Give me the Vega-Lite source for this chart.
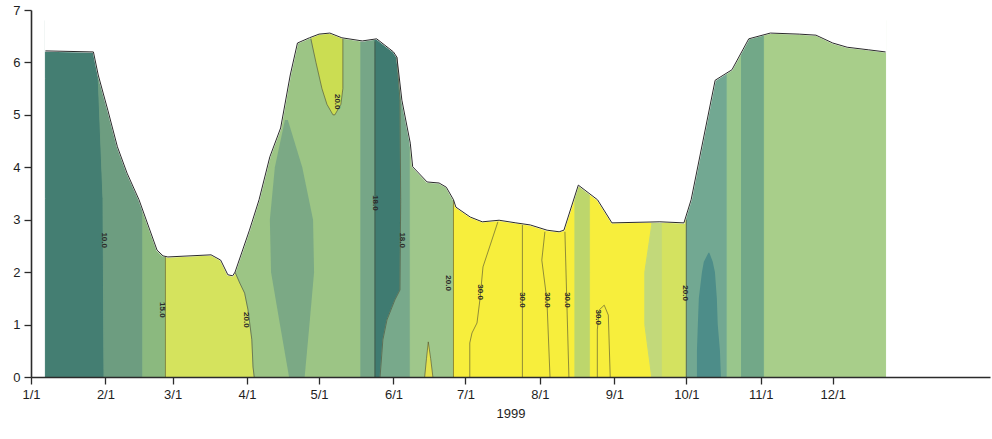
{
  "$schema": "https://vega.github.io/schema/vega-lite/v6.json",
  "autosize": {"type": "none"},
  "padding": {"left": 31, "top": 10, "right": 2, "bottom": 62},
  "width": 959,
  "height": 367,
  "background": "white",
  "config": {
    "view": {"stroke": null},
    "axis": {"labelFont": "Liberation Sans", "titleFont": "Liberation Sans", "domainColor": "#2b2b2b", "tickColor": "#2b2b2b", "labelColor": "#1e1e1e", "titleColor": "#1e1e1e", "grid": false}
  },
  "datasets": {
    "bands": [
      {"b":"b01","d":0,"t":"1999-01-07","t2":"1999-01-31T10:00Z"},
      {"b":"b01","d":3.4,"t":"1999-01-07","t2":"1999-01-31"},
      {"b":"b01","d":5.7,"t":"1999-01-07","t2":"1999-01-29"},
      {"b":"b01","d":6.8,"t":"1999-01-07","t2":"1999-01-28"},
      {"b":"b02","d":0,"t":"1999-01-31T10:00Z","t2":"1999-02-16T14:00Z"},
      {"b":"b02","d":3.4,"t":"1999-01-31","t2":"1999-02-16T14:00Z"},
      {"b":"b02","d":5.7,"t":"1999-01-29","t2":"1999-02-16T14:00Z"},
      {"b":"b02","d":6.8,"t":"1999-01-28","t2":"1999-02-16T14:00Z"},
      {"b":"b03","d":0,"t":"1999-02-16T14:00Z","t2":"1999-02-26"},
      {"b":"b03","d":6.8,"t":"1999-02-16T14:00Z","t2":"1999-02-26"},
      {"b":"b04","d":0,"t":"1999-02-26","t2":"1999-04-04"},
      {"b":"b04","d":0.19,"t":"1999-02-26","t2":"1999-04-03T12:00Z"},
      {"b":"b04","d":0.71,"t":"1999-02-26","t2":"1999-04-03"},
      {"b":"b04","d":1.28,"t":"1999-02-26","t2":"1999-04-01T10:00Z"},
      {"b":"b04","d":1.6,"t":"1999-02-26","t2":"1999-03-31"},
      {"b":"b04","d":1.79,"t":"1999-02-26","t2":"1999-03-29"},
      {"b":"b04","d":2.0,"t":"1999-02-26","t2":"1999-03-27"},
      {"b":"b04","d":6.8,"t":"1999-02-26","t2":"1999-03-27"},
      {"b":"b05","d":0,"t":"1999-04-04","t2":"1999-05-18T10:00Z"},
      {"b":"b05","d":0.19,"t":"1999-04-03T12:00Z","t2":"1999-05-18T10:00Z"},
      {"b":"b05","d":0.71,"t":"1999-04-03","t2":"1999-05-18T10:00Z"},
      {"b":"b05","d":1.28,"t":"1999-04-01T10:00Z","t2":"1999-05-18T10:00Z"},
      {"b":"b05","d":1.6,"t":"1999-03-31","t2":"1999-05-18T10:00Z"},
      {"b":"b05","d":1.79,"t":"1999-03-29","t2":"1999-05-18T10:00Z"},
      {"b":"b05","d":2.0,"t":"1999-03-27","t2":"1999-05-18T10:00Z"},
      {"b":"b05","d":6.8,"t":"1999-03-27","t2":"1999-05-18T10:00Z"},
      {"b":"b06","d":0,"t":"1999-05-18T10:00Z","t2":"1999-05-24T07:00Z"},
      {"b":"b06","d":6.8,"t":"1999-05-18T10:00Z","t2":"1999-05-24T07:00Z"},
      {"b":"b07","d":0,"t":"1999-05-24T07:00Z","t2":"1999-05-26T10:00Z"},
      {"b":"b07","d":0.71,"t":"1999-05-24T07:00Z","t2":"1999-05-27T14:00Z"},
      {"b":"b07","d":1.09,"t":"1999-05-24T07:00Z","t2":"1999-05-29T07:00Z"},
      {"b":"b07","d":1.47,"t":"1999-05-24T07:00Z","t2":"1999-06-01T14:00Z"},
      {"b":"b07","d":1.66,"t":"1999-05-24T07:00Z","t2":"1999-06-03T17:00Z"},
      {"b":"b07","d":3.38,"t":"1999-05-24T07:00Z","t2":"1999-06-04"},
      {"b":"b07","d":5.28,"t":"1999-05-24T07:00Z","t2":"1999-06-03T17:00Z"},
      {"b":"b07","d":6.1,"t":"1999-05-24T07:00Z","t2":"1999-06-02T10:00Z"},
      {"b":"b07","d":6.8,"t":"1999-05-24T07:00Z","t2":"1999-06-02"},
      {"b":"b08","d":0,"t":"1999-05-26T10:00Z","t2":"1999-06-08"},
      {"b":"b08","d":0.71,"t":"1999-05-27T14:00Z","t2":"1999-06-08"},
      {"b":"b08","d":1.09,"t":"1999-05-29T07:00Z","t2":"1999-06-08"},
      {"b":"b08","d":1.47,"t":"1999-06-01T14:00Z","t2":"1999-06-08"},
      {"b":"b08","d":1.66,"t":"1999-06-03T17:00Z","t2":"1999-06-08"},
      {"b":"b08","d":3.38,"t":"1999-06-04","t2":"1999-06-08"},
      {"b":"b08","d":5.28,"t":"1999-06-03T17:00Z","t2":"1999-06-08"},
      {"b":"b08","d":6.1,"t":"1999-06-02T10:00Z","t2":"1999-06-08"},
      {"b":"b08","d":6.8,"t":"1999-06-02","t2":"1999-06-08"},
      {"b":"b09","d":0,"t":"1999-06-08","t2":"1999-06-26"},
      {"b":"b09","d":6.8,"t":"1999-06-08","t2":"1999-06-26"},
      {"b":"b10","d":0,"t":"1999-06-26","t2":"1999-08-15T14:00Z"},
      {"b":"b10","d":6.8,"t":"1999-06-26","t2":"1999-08-15T14:00Z"},
      {"b":"b11","d":0,"t":"1999-08-15T14:00Z","t2":"1999-08-22"},
      {"b":"b11","d":6.8,"t":"1999-08-15T14:00Z","t2":"1999-08-22"},
      {"b":"b12","d":0,"t":"1999-08-22","t2":"1999-09-16T14:00Z"},
      {"b":"b12","d":1,"t":"1999-08-22","t2":"1999-09-13T17:00Z"},
      {"b":"b12","d":2,"t":"1999-08-22","t2":"1999-09-13T17:00Z"},
      {"b":"b12","d":2.9,"t":"1999-08-22","t2":"1999-09-16T14:00Z"},
      {"b":"b12","d":6.8,"t":"1999-08-22","t2":"1999-09-16T14:00Z"},
      {"b":"b13","d":0,"t":"1999-09-16T14:00Z","t2":"1999-09-21"},
      {"b":"b13","d":1,"t":"1999-09-13T17:00Z","t2":"1999-09-21"},
      {"b":"b13","d":2,"t":"1999-09-13T17:00Z","t2":"1999-09-21"},
      {"b":"b13","d":2.9,"t":"1999-09-16T14:00Z","t2":"1999-09-21"},
      {"b":"b13","d":6.8,"t":"1999-09-16T14:00Z","t2":"1999-09-21"},
      {"b":"b14","d":0,"t":"1999-09-21","t2":"1999-10-01"},
      {"b":"b14","d":6.8,"t":"1999-09-21","t2":"1999-10-01"},
      {"b":"b15","d":0,"t":"1999-10-01","t2":"1999-10-18"},
      {"b":"b15","d":6.8,"t":"1999-10-01","t2":"1999-10-18"},
      {"b":"b16","d":0,"t":"1999-10-18","t2":"1999-10-24"},
      {"b":"b16","d":6.8,"t":"1999-10-18","t2":"1999-10-24"},
      {"b":"b17","d":0,"t":"1999-10-24","t2":"1999-11-02T12:00Z"},
      {"b":"b17","d":6.8,"t":"1999-10-24","t2":"1999-11-02T12:00Z"},
      {"b":"b18","d":0,"t":"1999-11-02T12:00Z","t2":"1999-12-23"},
      {"b":"b18","d":6.8,"t":"1999-11-02T12:00Z","t2":"1999-12-23"}
    ],
    "spots": [
      {"b":"o1","d":0,"t":"1999-04-18T12:00Z","t2":"1999-04-25"},
      {"b":"o1","d":1,"t":"1999-04-14T17:00Z","t2":"1999-04-27"},
      {"b":"o1","d":2,"t":"1999-04-11","t2":"1999-04-28T22:00Z"},
      {"b":"o1","d":3,"t":"1999-04-10T12:00Z","t2":"1999-04-28T12:00Z"},
      {"b":"o1","d":4,"t":"1999-04-12T14:00Z","t2":"1999-04-24"},
      {"b":"o1","d":4.9,"t":"1999-04-16T19:00Z","t2":"1999-04-18"},
      {"b":"o2","d":5.0,"t":"1999-05-06T19:00Z","t2":"1999-05-07T14:00Z"},
      {"b":"o2","d":5.2,"t":"1999-05-04T07:00Z","t2":"1999-05-10T02:00Z"},
      {"b":"o2","d":5.5,"t":"1999-05-02T05:00Z","t2":"1999-05-10T22:00Z"},
      {"b":"o2","d":6.0,"t":"1999-04-29T17:00Z","t2":"1999-05-10T22:00Z"},
      {"b":"o2","d":6.5,"t":"1999-04-27T14:00Z","t2":"1999-05-10T22:00Z"},
      {"b":"o2","d":6.8,"t":"1999-04-27","t2":"1999-05-11"},
      {"b":"o3","d":0,"t":"1999-10-05T10:00Z","t2":"1999-10-15T10:00Z"},
      {"b":"o3","d":0.5,"t":"1999-10-05T10:00Z","t2":"1999-10-15"},
      {"b":"o3","d":1,"t":"1999-10-05T19:00Z","t2":"1999-10-14T02:00Z"},
      {"b":"o3","d":1.5,"t":"1999-10-06T05:00Z","t2":"1999-10-13T17:00Z"},
      {"b":"o3","d":2,"t":"1999-10-07T12:00Z","t2":"1999-10-12T22:00Z"},
      {"b":"o3","d":2.2,"t":"1999-10-08T07:00Z","t2":"1999-10-12"},
      {"b":"o3","d":2.37,"t":"1999-10-10T05:00Z","t2":"1999-10-10T14:00Z"},
      {"b":"o4","d":0,"t":"1999-06-14","t2":"1999-06-17T10:00Z"},
      {"b":"o4","d":0.35,"t":"1999-06-14T18:00Z","t2":"1999-06-16T12:00Z"},
      {"b":"o4","d":0.67,"t":"1999-06-15T10:00Z","t2":"1999-06-15T14:00Z"}
    ],
    "surface": [
      {"t":"1999-01-07","d":6.22},{"t":"1999-01-27","d":6.2},{"t":"1999-01-29","d":5.76},
      {"t":"1999-02-02","d":5.09},{"t":"1999-02-06","d":4.39},{"t":"1999-02-10","d":3.89},
      {"t":"1999-02-15","d":3.38},{"t":"1999-02-22T12:00Z","d":2.42},{"t":"1999-02-25","d":2.31},
      {"t":"1999-02-27","d":2.29},{"t":"1999-03-17","d":2.33},{"t":"1999-03-21","d":2.23},
      {"t":"1999-03-24","d":1.95},{"t":"1999-03-26","d":1.93},{"t":"1999-03-27","d":2.0},
      {"t":"1999-04-02","d":2.8},{"t":"1999-04-06","d":3.38},{"t":"1999-04-10T12:00Z","d":4.2},
      {"t":"1999-04-15","d":4.75},{"t":"1999-04-19","d":5.76},{"t":"1999-04-22","d":6.37},
      {"t":"1999-04-27","d":6.47},{"t":"1999-05-01","d":6.54},{"t":"1999-05-05T12:00Z","d":6.56},
      {"t":"1999-05-10T12:00Z","d":6.47},{"t":"1999-05-19","d":6.41},{"t":"1999-05-25","d":6.45},
      {"t":"1999-06-01","d":6.2},{"t":"1999-06-02T10:00Z","d":6.1},{"t":"1999-06-04T12:00Z","d":5.28},
      {"t":"1999-06-08","d":4.46},{"t":"1999-06-09","d":4.01},{"t":"1999-06-15","d":3.72},
      {"t":"1999-06-20","d":3.7},{"t":"1999-06-23","d":3.62},{"t":"1999-06-26","d":3.38},
      {"t":"1999-06-27","d":3.24},{"t":"1999-07-03","d":3.05},{"t":"1999-07-08","d":2.96},
      {"t":"1999-07-15","d":2.99},{"t":"1999-07-22","d":2.94},{"t":"1999-07-28","d":2.9},
      {"t":"1999-08-04","d":2.8},{"t":"1999-08-09","d":2.77},{"t":"1999-08-11","d":2.8},
      {"t":"1999-08-17","d":3.66},{"t":"1999-08-25","d":3.38},{"t":"1999-08-31","d":2.94},
      {"t":"1999-09-20","d":2.96},{"t":"1999-09-30","d":2.94},{"t":"1999-10-03","d":3.38},
      {"t":"1999-10-13","d":5.66},{"t":"1999-10-20","d":5.86},{"t":"1999-10-27","d":6.45},
      {"t":"1999-11-05","d":6.56},{"t":"1999-11-17","d":6.54},{"t":"1999-11-24","d":6.52},
      {"t":"1999-12-01","d":6.37},{"t":"1999-12-07","d":6.29},{"t":"1999-12-16","d":6.24},
      {"t":"1999-12-23","d":6.2}
    ],
    "contours": [
      {"c":"L01","i":0,"t":"1999-02-26","d":2.29},{"c":"L01","i":1,"t":"1999-02-26","d":0},
      {"c":"L02","i":0,"t":"1999-03-27","d":2.0},{"c":"L02","i":1,"t":"1999-03-29","d":1.79},
      {"c":"L02","i":2,"t":"1999-03-31","d":1.6},{"c":"L02","i":3,"t":"1999-04-01T10:00Z","d":1.28},
      {"c":"L02","i":4,"t":"1999-04-03","d":0.71},{"c":"L02","i":5,"t":"1999-04-03T12:00Z","d":0.19},
      {"c":"L02","i":6,"t":"1999-04-04","d":0},
      {"c":"L03","i":0,"t":"1999-04-27T14:00Z","d":6.45},{"c":"L03","i":1,"t":"1999-04-29T17:00Z","d":6.0},
      {"c":"L03","i":2,"t":"1999-05-02T05:00Z","d":5.5},{"c":"L03","i":3,"t":"1999-05-04T07:00Z","d":5.2},
      {"c":"L03","i":4,"t":"1999-05-06T19:00Z","d":5.0},{"c":"L03","i":5,"t":"1999-05-07T14:00Z","d":5.0},
      {"c":"L03","i":6,"t":"1999-05-10T02:00Z","d":5.2},{"c":"L03","i":7,"t":"1999-05-10T22:00Z","d":5.5},
      {"c":"L03","i":8,"t":"1999-05-10T22:00Z","d":6.45},
      {"c":"L04","i":0,"t":"1999-05-24T07:00Z","d":6.4},{"c":"L04","i":1,"t":"1999-05-24T07:00Z","d":0},
      {"c":"L05","i":0,"t":"1999-06-02T10:00Z","d":6.1},{"c":"L05","i":1,"t":"1999-06-03T17:00Z","d":5.28},
      {"c":"L05","i":2,"t":"1999-06-04","d":3.38},{"c":"L05","i":3,"t":"1999-06-03T17:00Z","d":1.66},
      {"c":"L05","i":4,"t":"1999-06-01T14:00Z","d":1.47},{"c":"L05","i":5,"t":"1999-05-29T07:00Z","d":1.09},
      {"c":"L05","i":6,"t":"1999-05-27T14:00Z","d":0.71},{"c":"L05","i":7,"t":"1999-05-26T10:00Z","d":0},
      {"c":"L06","i":0,"t":"1999-06-26","d":3.38},{"c":"L06","i":1,"t":"1999-06-26","d":0},
      {"c":"L07","i":0,"t":"1999-10-01","d":3.0},{"c":"L07","i":1,"t":"1999-10-01","d":0},
      {"c":"L08","i":0,"t":"1999-06-14","d":0},{"c":"L08","i":1,"t":"1999-06-14T18:00Z","d":0.35},
      {"c":"L08","i":2,"t":"1999-06-15T12:00Z","d":0.67},{"c":"L08","i":3,"t":"1999-06-16T12:00Z","d":0.35},
      {"c":"L08","i":4,"t":"1999-06-17T10:00Z","d":0},
      {"c":"L09","i":0,"t":"1999-07-14T12:00Z","d":2.96},{"c":"L09","i":1,"t":"1999-07-08T07:00Z","d":2.1},
      {"c":"L09","i":2,"t":"1999-07-07","d":1.47},{"c":"L09","i":3,"t":"1999-07-05T19:00Z","d":1.03},
      {"c":"L09","i":4,"t":"1999-07-03T17:00Z","d":0.84},{"c":"L09","i":5,"t":"1999-07-02T19:00Z","d":0.65},
      {"c":"L09","i":6,"t":"1999-07-02T19:00Z","d":0},
      {"c":"L10","i":0,"t":"1999-07-24T17:00Z","d":2.9},{"c":"L10","i":1,"t":"1999-07-24T17:00Z","d":0},
      {"c":"L11","i":0,"t":"1999-08-03T02:00Z","d":2.77},{"c":"L11","i":1,"t":"1999-08-01T19:00Z","d":2.23},
      {"c":"L11","i":2,"t":"1999-08-03T22:00Z","d":1.47},{"c":"L11","i":3,"t":"1999-08-05T05:00Z","d":0},
      {"c":"L12","i":0,"t":"1999-08-11T10:00Z","d":2.77},{"c":"L12","i":1,"t":"1999-08-13T02:00Z","d":0},
      {"c":"L13","i":0,"t":"1999-08-24T22:00Z","d":0},{"c":"L13","i":1,"t":"1999-08-24T22:00Z","d":0.9},
      {"c":"L13","i":2,"t":"1999-08-25T17:00Z","d":1.28},{"c":"L13","i":3,"t":"1999-08-27T19:00Z","d":1.37},
      {"c":"L13","i":4,"t":"1999-08-29T12:00Z","d":1.18},{"c":"L13","i":5,"t":"1999-08-30T07:00Z","d":0}
    ],
    "labels": [
      {"txt":"10.0","t":"1999-01-31T10:00Z","d":2.61},
      {"txt":"15.0","t":"1999-02-24T14:00Z","d":1.28},
      {"txt":"20.0","t":"1999-03-31T12:00Z","d":1.09},
      {"txt":"20.0","t":"1999-05-08T10:00Z","d":5.25},
      {"txt":"18.0","t":"1999-05-24T07:00Z","d":3.32},
      {"txt":"18.0","t":"1999-06-04T12:00Z","d":2.61},
      {"txt":"20.0","t":"1999-06-23T17:00Z","d":1.79},
      {"txt":"30.0","t":"1999-07-07","d":1.62},
      {"txt":"30.0","t":"1999-07-24T17:00Z","d":1.47},
      {"txt":"30.0","t":"1999-08-03T22:00Z","d":1.47},
      {"txt":"30.0","t":"1999-08-12T05:00Z","d":1.47},
      {"txt":"30.0","t":"1999-08-25T05:00Z","d":1.14},
      {"txt":"20.0","t":"1999-09-30T10:00Z","d":1.6}
    ]
  },
  "encoding": {
    "x": {
      "field": "t", "type": "temporal",
      "scale": {"type": "utc", "nice": false, "domain": [{"year": 1999, "month": 1, "date": 1, "utc": true}, {"year": 2000, "month": 2, "date": 4, "hours": 12, "utc": true}]},
      "axis": {
        "values": [
          {"year": 1999, "month": 1, "date": 1, "utc": true},
          {"year": 1999, "month": 2, "date": 1, "utc": true},
          {"year": 1999, "month": 3, "date": 1, "utc": true},
          {"year": 1999, "month": 4, "date": 1, "utc": true},
          {"year": 1999, "month": 5, "date": 1, "utc": true},
          {"year": 1999, "month": 6, "date": 1, "utc": true},
          {"year": 1999, "month": 7, "date": 1, "utc": true},
          {"year": 1999, "month": 8, "date": 1, "utc": true},
          {"year": 1999, "month": 9, "date": 1, "utc": true},
          {"year": 1999, "month": 10, "date": 1, "utc": true},
          {"year": 1999, "month": 11, "date": 1, "utc": true},
          {"year": 1999, "month": 12, "date": 1, "utc": true}
        ],
        "labelExpr": "utcFormat(datum.value, '%-m/%-d')",
        "tickSize": 7, "tickWidth": 1.3, "domainWidth": 1.6,
        "labelFontSize": 13, "labelPadding": 4, "labelFlush": false, "labelOverlap": false,
        "title": "1999", "titleFontSize": 13, "titleFontWeight": "normal", "titlePadding": 6,
        "zindex": 1
      }
    },
    "y": {
      "field": "d", "type": "quantitative", "stack": null,
      "scale": {"domain": [0, 7], "nice": false, "zero": false},
      "axis": {"values": [0, 1, 2, 3, 4, 5, 6, 7], "tickSize": 7, "tickWidth": 1.3, "domainWidth": 1.6, "labelFontSize": 13, "labelPadding": 4, "labelFlush": false, "title": null, "zindex": 1}
    }
  },
  "layer": [
    {
      "data": {"name": "bands"},
      "mark": {"type": "area", "orient": "horizontal", "strokeWidth": 1, "opacity": 1},
      "encoding": {
        "x2": {"field": "t2"},
        "color": {"field": "b", "type": "nominal", "legend": null,
          "scale": {"domain": ["b01","b02","b03","b04","b05","b06","b07","b08","b09","b10","b11","b12","b13","b14","b15","b16","b17","b18"],
                    "range": ["#447e72","#6d9d80","#8bb97f","#d5e35d","#9cc585","#76a687","#3f7b71","#78a98b","#9fc78b","#f7ee3c","#bdd66c","#f7ee3c","#c2d97a","#d4e260","#72a892","#99c68c","#72a888","#a8ce8a"]}},
        "stroke": {"field": "b", "type": "nominal", "legend": null,
          "scale": {"domain": ["b01","b02","b03","b04","b05","b06","b07","b08","b09","b10","b11","b12","b13","b14","b15","b16","b17","b18"],
                    "range": ["#447e72","#6d9d80","#8bb97f","#d5e35d","#9cc585","#76a687","#3f7b71","#78a98b","#9fc78b","#f7ee3c","#bdd66c","#f7ee3c","#c2d97a","#d4e260","#72a892","#99c68c","#72a888","#a8ce8a"]}}
      }
    },
    {
      "data": {"name": "spots"},
      "mark": {"type": "area", "orient": "horizontal", "opacity": 1},
      "encoding": {
        "x2": {"field": "t2"},
        "fill": {"field": "b", "type": "nominal", "legend": null,
          "scale": {"domain": ["o1","o2","o3","o4"], "range": ["#7ba985","#cbdd52","#4d8d89","#e4e24e"]}}
      }
    },
    {
      "data": {"name": "surface"},
      "mark": {"type": "area", "orient": "vertical", "color": "white", "stroke": "white", "strokeWidth": 1.5, "opacity": 1},
      "encoding": {"y2": {"datum": 7}}
    },
    {
      "data": {"name": "contours"},
      "mark": {"type": "line", "color": "#4a4a32", "strokeWidth": 0.8, "opacity": 0.75},
      "encoding": {"detail": {"field": "c"}, "order": {"field": "i", "type": "quantitative"}}
    },
    {
      "data": {"name": "surface"},
      "mark": {"type": "line", "color": "#2a2a2a", "strokeWidth": 1},
      "encoding": {}
    },
    {
      "data": {"name": "labels"},
      "mark": {"type": "text", "angle": 90, "font": "Liberation Sans", "fontSize": 8, "fontWeight": "bold", "color": "#2a2a2a", "align": "center", "baseline": "middle"},
      "encoding": {"text": {"field": "txt"}}
    }
  ]
}
